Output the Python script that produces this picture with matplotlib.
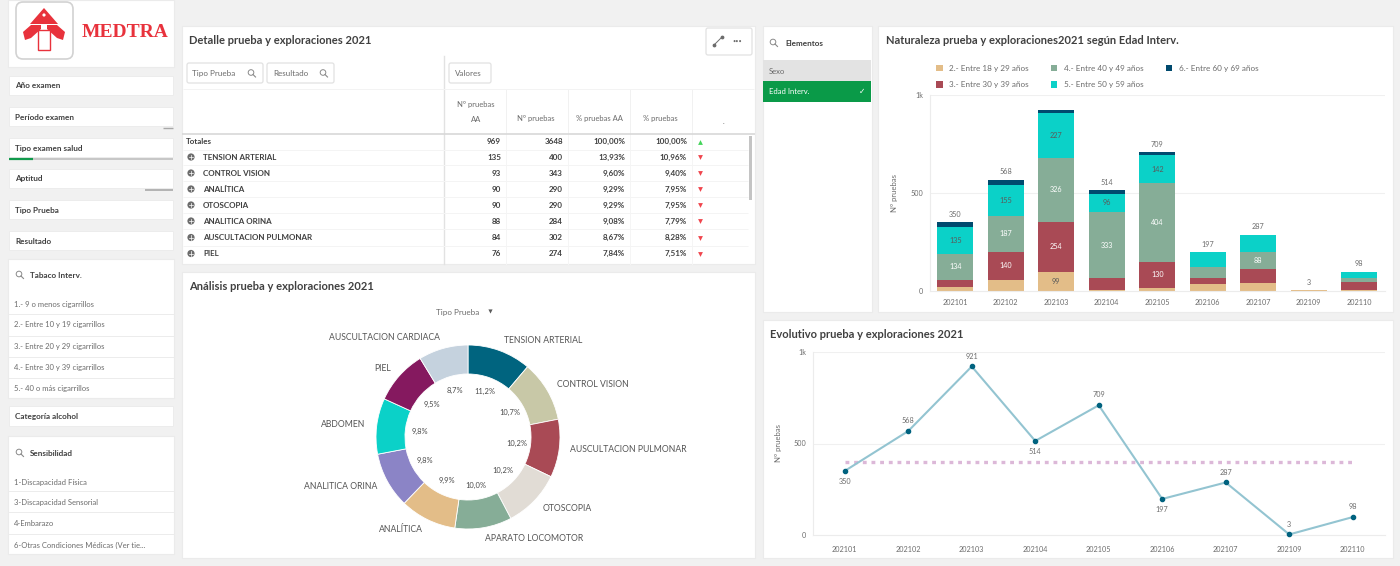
import matplotlib
matplotlib.use("Agg")
import matplotlib.pyplot as plt
from matplotlib.patches import Rectangle, FancyBboxPatch, Polygon, Circle

W, H = 1400, 566
plt.rcParams['font.family'] = ['Lato', 'DejaVu Sans']

# ---- data ----
months = ['202101', '202102', '202103', '202104', '202105', '202106', '202107', '202109', '202110']
age_labels = ['2.- Entre 18 y 29 años', '3.- Entre 30 y 39 años', '4.- Entre 40 y 49 años',
              '5.- Entre 50 y 59 años', '6.- Entre 60 y 69 años']
age_18_29 = [22, 58, 99, 7, 17, 34, 41, 3, 5]
age_30_39 = [35, 140, 254, 61, 130, 34, 71, 0, 41]
age_40_49 = [134, 187, 326, 333, 404, 55, 88, 0, 20]
age_50_59 = [135, 155, 227, 96, 142, 74, 87, 0, 32]
age_60_69 = [24, 28, 15, 17, 16, 0, 0, 0, 0]
age_colors = ['#e3bd88', '#a94a55', '#86ad97', '#0bd1c8', '#004a6e']
bar_label_dark = [True, False, False, False, False]
total_hidden = ['202103']

monthly_total = [350, 568, 921, 514, 709, 197, 287, 3, 98]
monthly_below = [True, False, False, True, False, True, False, False, False]
monthly_reference = 400

donut_names = ['TENSION ARTERIAL', 'CONTROL VISION', 'AUSCULTACION PULMONAR', 'OTOSCOPIA',
               'APARATO LOCOMOTOR', 'ANALÍTICA', 'ANALITICA ORINA', 'ABDOMEN', 'PIEL',
               'AUSCULTACION CARDIACA']
donut_share = [11.2, 10.7, 10.2, 10.2, 10.0, 9.9, 9.8, 9.8, 9.5, 8.7]
donut_colors = ['#00647f', '#c8c8a7', '#a94a55', '#e1dcd5', '#86ad97', '#e3bd88', '#8b84c6',
                '#0bd1c8', '#85195f', '#c5d2de']

table_rows = ['Totales', 'TENSION ARTERIAL', 'CONTROL VISION', 'ANALÍTICA', 'OTOSCOPIA',
              'ANALITICA ORINA', 'AUSCULTACION PULMONAR', 'PIEL']
table_aa = ['969', '135', '93', '90', '90', '88', '84', '76']
table_n = ['3648', '400', '343', '290', '290', '284', '302', '274']
table_pct_aa = ['100,00%', '13,93%', '9,60%', '9,29%', '9,29%', '9,08%', '8,67%', '7,84%']
table_pct = ['100,00%', '10,96%', '9,40%', '7,95%', '7,95%', '7,79%', '8,28%', '7,51%']

filter_names = ['Año examen', 'Período examen', 'Tipo examen salud', 'Aptitud', 'Tipo Prueba', 'Resultado']
tabaco_items = ['1.- 9 o menos cigarrillos', '2.- Entre 10 y 19 cigarrillos', '3.- Entre 20 y 29 cigarrillos',
                '4.- Entre 30 y 39 cigarrillos', '5.- 40 o más cigarrillos']
sensibilidad_items = ['1-Discapacidad Física', '3-Discapacidad Sensorial', '4-Embarazo',
                      '6-Otras Condiciones Médicas (Ver tie...']

# ---- page ----
fig = plt.figure(figsize=(W / 100, H / 100), dpi=100, facecolor='#f1f1f1')
bg = fig.add_axes([0, 0, 1, 1], zorder=0)
bg.set_xlim(0, W)
bg.set_ylim(H, 0)
bg.axis('off')

TXT = '#404040'
MUTED = '#6c6c6c'
LINE = '#ececec'


def px_axes(l, t, r, b):
    ax = fig.add_axes([l / W, 1 - b / H, (r - l) / W, (b - t) / H], zorder=2)
    ax.patch.set_alpha(0)
    return ax


def panel(x0, y0, x1, y1):
    bg.add_patch(Rectangle((x0, y0), x1 - x0, y1 - y0, fc='white', ec='#ebebeb', lw=0.8))


def hline(x0, x1, y, c=LINE, lw=0.7):
    bg.plot([x0, x1], [y, y], color=c, lw=lw, solid_capstyle='butt')


def text(x, y, s, size=5.2, color=MUTED, weight='normal', ha='left', va='center', **kw):
    bg.text(x, y, s, fontsize=size, color=color, fontweight=weight, ha=ha, va=va, **kw)


def magnifier(x, y, c='#8a8a8a'):
    bg.add_patch(Circle((x, y), 2.8, fc='none', ec=c, lw=0.7))
    bg.plot([x + 2, x + 4.5], [y + 2, y + 4.5], color=c, lw=0.8)


def chip(x0, y0, x1, y1):
    bg.add_patch(FancyBboxPatch((x0 + 1, y0 + 1), x1 - x0 - 2, y1 - y0 - 2,
                                boxstyle='round,pad=1,rounding_size=2', fc='white', ec='#e2e2e2', lw=0.9))


for box in [(8, 0, 174, 67), (182, 26, 755, 264), (182, 272, 755, 558), (763, 26, 872, 312),
            (878, 26, 1393, 312), (763, 320, 1393, 558), (8, 259, 174, 398), (8, 436, 174, 554)]:
    panel(*box)

# ---- logo ----
RED = '#e8323c'
bg.add_patch(FancyBboxPatch((16, 2), 57, 57, boxstyle='round,pad=0,rounding_size=7',
                            fc='white', ec='#d2d2d2', lw=1.2))
bg.add_patch(Polygon([(44, 8), (58, 24), (30, 24)], fc=RED, ec='none'))
bg.add_patch(Polygon([(31, 25), (41, 25), (41, 29), (31, 38), (25, 40), (23, 32)], fc=RED, ec='none'))
bg.add_patch(Polygon([(57, 25), (47, 25), (47, 29), (57, 38), (63, 40), (65, 32)], fc=RED, ec='none'))
bg.add_patch(Polygon([(38, 30), (50, 30), (50, 50), (38, 50)], fc='white', ec=RED, lw=1.0))
bg.add_patch(Circle((44, 15), 1.6, fc='white', ec='none'))
text(82, 32.5, 'MEDTRA', size=14, color=RED, weight='bold', family='Liberation Serif')

# ---- left filters ----
filter_tops = [76, 107, 138, 169, 200, 231]
for name, top in zip(filter_names, filter_tops):
    bg.add_patch(Rectangle((9, top), 164, 19, fc='white', ec='#ececec', lw=0.7))
    text(15, top + 10, name, size=5.9, color=TXT, weight='bold')
hline(163, 173, 128, '#a8a8a8', 1.0)
hline(9, 173, 159, '#c6c6c6', 1.4)
hline(9, 33, 159, '#119a4c', 1.6)
hline(145, 173, 189.5, '#a8a8a8', 1.2)
magnifier(19, 274)
text(30, 275, 'Tabaco Interv.', size=5.9, color=TXT, weight='bold')
for item, y in zip(tabaco_items, [304, 325, 346.5, 367.5, 389]):
    text(14, y, item, size=5.5)
for y in [314, 336, 357, 378]:
    hline(8, 174, y)
bg.add_patch(Rectangle((9, 406), 164, 20, fc='white', ec='#ececec', lw=0.7))
text(15, 416, 'Categoría alcohol', size=5.9, color=TXT, weight='bold')
magnifier(19, 452)
text(30, 453, 'Sensibilidad', size=5.9, color=TXT, weight='bold')
for item, y in zip(sensibilidad_items, [482, 503, 524, 545]):
    text(14, y, item, size=5.5)
for y in [491, 512, 534]:
    hline(8, 174, y)

# ---- table panel ----
text(189, 41, 'Detalle prueba y exploraciones 2021', size=8, color=TXT, weight='bold')
chip(706, 28, 752, 55)
bg.plot([714, 722], [45, 37], color=MUTED, lw=0.7)
bg.scatter([714, 722], [45, 37], s=3, color=MUTED)
text(737, 41, '•••', size=4, color=MUTED, ha='center')
chip(187, 63, 263, 83)
text(192, 73.5, 'Tipo Prueba', size=5.8)
magnifier(251, 72.5)
chip(267, 63, 334, 83)
text(273, 73.5, 'Resultado', size=5.8)
magnifier(323, 72.5)
chip(449, 63, 491, 83)
text(455, 73.5, 'Valores', size=5.8)
bg.plot([444, 444], [56, 264], color='#e2e2e2', lw=1)
hline(183, 754, 89, '#f3f3f3')
for x in [506, 568, 630, 692]:
    bg.plot([x, x], [90, 133], color='#f1f1f1', lw=0.7)
    bg.plot([x, x], [134, 264], color='#f5f5f5', lw=0.7)
hline(182, 755, 133.5, '#d8d8d8', 1.2)
text(476, 105, 'Nº pruebas', size=5.5, ha='center')
text(476, 119, 'AA', size=5.5, ha='center')
text(536, 119, 'Nº pruebas', size=5.5, ha='center')
text(599, 119, '% pruebas AA', size=5.5, ha='center')
text(660, 119, '% pruebas', size=5.5, ha='center')
text(723, 121, '.', size=5, ha='center')
row_ys = [141.5, 157, 173, 189, 205, 221, 237.5, 253.5]
for i, (y, name) in enumerate(zip(row_ys, table_rows)):
    if i == 0:
        text(186, y, name, size=5.8, color=TXT, weight='bold')
    else:
        bg.add_patch(Circle((191, y), 3.6, fc='#6c6c6c', ec='none'))
        bg.plot([188.7, 193.3], [y, y], color='white', lw=0.5)
        bg.plot([191, 191], [y - 2.3, y + 2.3], color='white', lw=0.5)
        text(203, y, name, size=5.8, color=TXT, weight='bold')
    for x, col in zip([501, 563, 625, 687], [table_aa, table_n, table_pct_aa, table_pct]):
        text(x, y, col[i], size=5.8, color=TXT, weight='bold', ha='right')
    bg.scatter([700], [y], s=12, marker='^' if i == 0 else 'v', color='#44d45a' if i == 0 else '#f0454d', lw=0)
    if i < 7:
        hline(183, 748, y + 8, '#f4f4f4')
bg.add_patch(Rectangle((749, 136), 3, 64, fc='#c4c4c4', ec='none'))

# ---- donut panel ----
text(189, 286, 'Análisis prueba y exploraciones 2021', size=8, color=TXT, weight='bold')
text(458, 312, 'Tipo Prueba', size=5.8, ha='center')
bg.scatter([490], [311], s=9, marker='v', color='#5a5a5a', lw=0)
d_ax = px_axes(376, 345, 560, 529)
wedges, labels, pcts = d_ax.pie(donut_share, labels=donut_names, colors=donut_colors, startangle=90,
                                counterclock=False, labeldistance=1.12, pctdistance=0.53,
                                autopct=lambda v: f'{v:.1f}%'.replace('.', ','),
                                radius=1, wedgeprops=dict(width=0.315, edgecolor='white', linewidth=0.6))
d_ax.set_xlim(-1, 1)
d_ax.set_ylim(-1, 1)
for t in labels:
    t.set_fontsize(6.2)
    t.set_color('#555555')
for t in pcts:
    t.set_fontsize(5.4)
    t.set_color('#4a4a4a')

# ---- elements panel ----
magnifier(773, 42)
text(785, 43, 'Elementos', size=5.9, color=TXT, weight='bold')
bg.add_patch(Rectangle((763, 60), 108, 21, fc='#e3e3e3', ec='none'))
text(769, 71, 'Sexo', size=5.5, color='#6a6a6a')
bg.add_patch(Rectangle((763, 81), 108, 21, fc='#0a9a48', ec='none'))
text(769, 92, 'Edad Interv.', size=5.5, color='white')
text(862, 91, '✓', size=5.5, color='white', ha='center', family='DejaVu Sans')


def style_axes(ax, ylabel, pad_label, pad_ticks):
    ax.set_xlim(-0.5, len(months) - 0.5)
    ax.set_ylim(0, 1000)
    ax.set_xticks(range(len(months)), months)
    ax.set_yticks([0, 500, 1000], ['0', '500', '1k'])
    ax.tick_params(length=0, labelsize=5.2, labelcolor=MUTED)
    ax.tick_params(axis='x', pad=pad_ticks)
    ax.tick_params(axis='y', pad=5)
    ax.grid(axis='y', color='#f0f0f0', lw=0.8)
    ax.set_axisbelow(True)
    for side in ['top', 'right']:
        ax.spines[side].set_visible(False)
    for side in ['left', 'bottom']:
        ax.spines[side].set_color('#ececec')
        ax.spines[side].set_linewidth(0.8)
    ax.set_ylabel(ylabel, fontsize=5.6, color=MUTED, labelpad=pad_label)


# ---- stacked bars ----
text(886, 41, 'Naturaleza prueba y exploraciones2021 según Edad Interv.', size=8, color=TXT, weight='bold')
b_ax = px_axes(930, 95, 1384.5, 291)
style_axes(b_ax, 'Nº pruebas', 8.5, 6)
series = [age_18_29, age_30_39, age_40_49, age_50_59, age_60_69]
base = [0] * len(months)
for values, color, label, dark in zip(series, age_colors, age_labels, bar_label_dark):
    b_ax.bar(range(len(months)), values, bottom=base, width=0.71, color=color, label=label)
    for i, v in enumerate(values):
        if v >= 88 and color != age_colors[4]:
            seg_color = '#5a5a5a' if dark or color == age_colors[3] else 'white'
            b_ax.text(i, base[i] + v / 2, str(v), ha='center', va='center', fontsize=5.2, color=seg_color)
    base = [b + v for b, v in zip(base, values)]
for i, (m, total) in enumerate(zip(months, base)):
    if m not in total_hidden:
        b_ax.text(i, total + 22, str(total), ha='center', va='bottom', fontsize=5.2, color=MUTED)
b_ax.legend(loc='upper left', bbox_to_anchor=(936 / W, 1 - 65 / H), bbox_transform=fig.transFigure, ncols=3,
            frameon=False, fontsize=5.9, labelcolor=MUTED, handlelength=0.8, handleheight=0.8,
            handletextpad=0.8, columnspacing=2.7, labelspacing=1.15, borderpad=0, borderaxespad=0)

# ---- line chart ----
text(770, 335, 'Evolutivo prueba y exploraciones 2021', size=8, color=TXT, weight='bold')
l_ax = px_axes(813, 352, 1384.5, 535)
style_axes(l_ax, 'Nº pruebas', 8.5, 8)
l_ax.plot(range(len(months)), [monthly_reference] * len(months), color='#dcb8d8', lw=2.4,
          linestyle=(0, (1.15, 1.45)), zorder=2)
l_ax.plot(range(len(months)), monthly_total, color='#93c4d1', lw=1.5, marker='o', markersize=3,
          markerfacecolor='#00627f', markeredgecolor='#00627f', zorder=3, clip_on=False)
for i, (v, below) in enumerate(zip(monthly_total, monthly_below)):
    l_ax.annotate(str(v), (i, v), xytext=(0, -5 if below else 5), textcoords='offset points',
                  ha='center', va='top' if below else 'bottom', fontsize=5.2, color=MUTED)

fig.savefig('out.png', dpi=100, facecolor=fig.get_facecolor())
